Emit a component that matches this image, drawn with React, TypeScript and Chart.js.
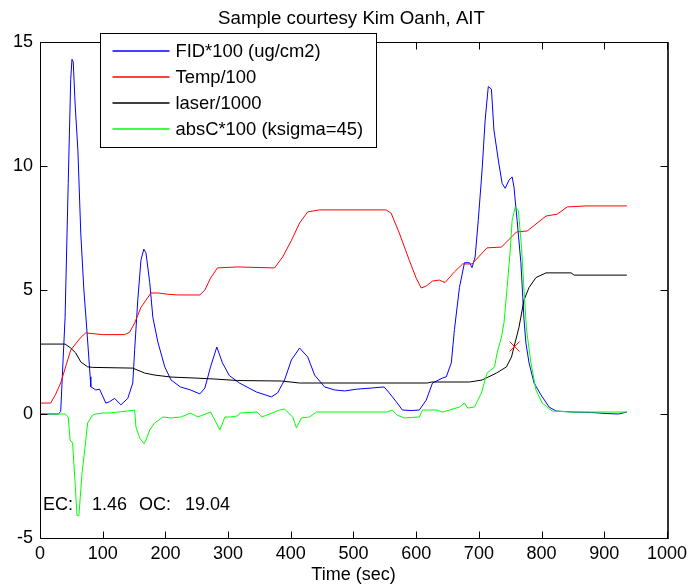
import React, { useEffect, useRef } from "react";
import { Chart, registerables } from "chart.js";

Chart.register(...registerables);

// ---- data ----
const fidTime = [0, 29, 33, 40, 45, 49, 51, 53, 56, 60.5, 65, 70, 75, 80, 81, 89, 95, 105, 111, 119, 129, 140, 148, 151, 156, 161, 165.6, 169, 175, 180, 188, 199, 209, 224, 240, 255, 263, 272, 282, 291, 302, 318, 345, 369, 379, 390, 401, 414, 427, 438, 454, 470, 486, 505, 530, 549, 557, 568, 578, 592, 605, 616, 626, 642, 648, 656, 661, 669, 677, 685, 689, 694, 699, 705, 710, 715, 720, 724, 731, 737, 742, 748, 753, 756, 761, 767, 772, 775, 780, 788, 799, 812, 823, 849, 880, 903, 923, 936];
const fidValue = [0, 0, 0.1, 3.9, 9.3, 13.5, 14.3, 14.2, 12.5, 10.6, 7.3, 5.0, 3.3, 1.5, 1.1, 0.97, 1.0, 0.44, 0.5, 0.63, 0.37, 0.63, 1.25, 2.6, 4.6, 6.2, 6.65, 6.5, 5.3, 3.9, 2.9, 1.9, 1.37, 1.09, 0.97, 0.81, 1.05, 1.9, 2.7, 2.06, 1.55, 1.25, 0.89, 0.69, 0.85, 1.37, 2.18, 2.66, 2.3, 1.57, 1.09, 0.97, 0.93, 1.0, 1.05, 1.09, 0.85, 0.5, 0.16, 0.14, 0.16, 0.56, 1.25, 1.45, 1.5, 2.06, 3.4, 5.1, 6.1, 6.1, 5.9, 6.33, 7.8, 9.8, 11.85, 13.2, 13.1, 11.45, 10.24, 9.3, 9.1, 9.43, 9.56, 9.15, 7.8, 6.1, 3.8, 2.86, 2.06, 1.25, 0.77, 0.28, 0.12, 0.08, 0.06, 0.02, 0, 0.08];

const tempTime = [0, 17, 25, 33, 49, 64, 73, 100, 135, 143, 151, 161, 177, 188, 204, 220, 255, 263, 272, 283, 315, 374, 387, 401, 414, 427, 446, 552, 560, 573, 589, 600, 608, 616, 626, 637, 646, 661, 674, 689, 713, 736, 760, 777, 807, 825, 841, 871, 936];
const tempValue = [0.44, 0.44, 0.8, 1.25, 2.58, 3.06, 3.27, 3.2, 3.2, 3.3, 3.67, 4.3, 4.88, 4.88, 4.83, 4.8, 4.8, 5.0, 5.48, 5.89, 5.93, 5.89, 6.33, 7.0, 7.7, 8.15, 8.23, 8.23, 8.1, 7.3, 6.2, 5.48, 5.08, 5.16, 5.36, 5.4, 5.3, 5.73, 6.05, 6.05, 6.7, 6.73, 7.34, 7.38, 7.98, 8.06, 8.35, 8.39, 8.39];

const laserTime = [0, 40, 49, 57, 65, 76, 84, 148, 167, 183, 209, 247, 279, 315, 385, 414, 618, 625, 685, 705, 728, 744, 752, 756, 764, 772, 780, 791, 807, 847, 852, 936];
const laserValue = [2.82, 2.82, 2.66, 2.46, 2.1, 1.9, 1.88, 1.85, 1.65, 1.57, 1.49, 1.45, 1.41, 1.35, 1.33, 1.25, 1.25, 1.29, 1.29, 1.37, 1.65, 1.9, 2.3, 2.7, 3.5, 4.6, 5.1, 5.5, 5.69, 5.69, 5.6, 5.6];

const absCTime = [0, 40, 45, 48, 52, 56, 59, 62, 67, 72, 76, 84, 89, 100, 112, 124, 140, 151, 153, 159, 166, 169, 175, 183, 196, 209, 225, 240, 252, 272, 287, 295, 304, 315, 319, 346, 354, 382, 390, 403, 409, 417, 430, 441, 553, 562, 569, 581, 605, 610, 632, 642, 653, 669, 677, 682, 693, 704, 713, 725, 729, 736, 740, 745, 750, 753, 758, 763, 768, 772, 776, 783, 791, 801, 817, 849, 936];
const absCValue = [0, 0, -0.12, -1.05, -1.17, -2.8, -4.1, -4.1, -2.4, -1.3, -0.36, -0.04, 0, 0.04, 0.04, 0.08, 0.12, 0.16, -0.52, -0.97, -1.2, -1.05, -0.64, -0.36, -0.12, -0.16, -0.12, 0.04, -0.12, 0.08, -0.64, -0.12, -0.12, -0.08, 0.04, 0.08, -0.12, 0.16, 0.2, -0.12, -0.56, -0.16, -0.12, 0.08, 0.08, 0.16, -0.04, -0.16, -0.12, 0.16, 0.16, 0.08, 0.16, 0.28, 0.44, 0.24, 0.28, 0.85, 1.65, 1.9, 2.46, 3.1, 3.67, 5.1, 6.6, 7.8, 8.35, 8.2, 6.73, 5.0, 3.39, 2.06, 0.97, 0.44, 0.12, 0.08, 0.08];

const markerTime = [757];
const markerValue = [2.72];

const seriesLabels = ["FID*100 (ug/cm2)", "Temp/100", "laser/1000", "absC*100 (ksigma=45)"];
const seriesColors = ["#0000ff", "#ff0000", "#000000", "#00ff00"];

const titleText = "Sample courtesy Kim Oanh, AIT";
const xAxisTitle = "Time (sec)";
const ecLabel = "EC:";
const ecValue = "1.46";
const ocLabel = "OC:";
const ocValue = "19.04";

const xMin = 0, xMax = 1000, xStep = 100;
const yMin = -5, yMax = 15, yStep = 5;

const FONT = '"Liberation Sans", Arial, Helvetica, sans-serif';

const toPoints = (xs: number[], ys: number[]) => xs.map((x, i) => ({ x, y: ys[i] }));

const matlabPlugin = {
  id: "matlabDecor",
  afterDraw(chart: any) {
    const { ctx, chartArea: a, scales } = chart;
    const xs = scales.x;
    const ys = scales.y;
    ctx.save();
    // box
    ctx.strokeStyle = "#000";
    ctx.lineWidth = 1;
    const L = Math.round(a.left) + 0.5;
    const R = Math.round(a.right) + 0.5;
    const T = Math.round(a.top) + 0.5;
    const B = Math.round(a.bottom) + 0.5;
    ctx.beginPath();
    ctx.moveTo(L, T);
    ctx.lineTo(R, T);
    ctx.lineTo(R, B);
    ctx.lineTo(L, B);
    ctx.closePath();
    ctx.stroke();
    ctx.lineWidth = 2;
    ctx.strokeStyle = "#333";
    ctx.beginPath();
    ctx.moveTo(R + 0.5, T - 0.5);
    ctx.lineTo(R + 0.5, B + 0.5);
    ctx.stroke();
    // inward ticks
    ctx.strokeStyle = "#000";
    ctx.lineWidth = 1;
    const tl = 7;
    ctx.beginPath();
    for (const t of xs.ticks) {
      const p = Math.round(xs.getPixelForValue(t.value)) + 0.5;
      ctx.moveTo(p, B);
      ctx.lineTo(p, B - tl);
      ctx.moveTo(p, T);
      ctx.lineTo(p, T + tl);
    }
    for (const t of ys.ticks) {
      const p = Math.round(ys.getPixelForValue(t.value)) + 0.5;
      ctx.moveTo(L, p);
      ctx.lineTo(L + tl, p);
      ctx.moveTo(R, p);
      ctx.lineTo(R - tl, p);
    }
    ctx.stroke();

    // title
    ctx.fillStyle = "#000";
    ctx.font = `18.7px ${FONT}`;
    ctx.textAlign = "center";
    ctx.textBaseline = "middle";
    ctx.fillText(titleText, (a.left + a.right) / 2 - 2, a.top - 23);

    // EC / OC text
    ctx.font = `18px ${FONT}`;
    ctx.textAlign = "left";
    const ty = a.bottom - 33;
    ctx.fillText(ecLabel, a.left + 3, ty);
    ctx.fillText(ecValue, a.left + 52, ty);
    ctx.fillText(ocLabel, a.left + 99, ty);
    ctx.fillText(ocValue, a.left + 145, ty);

    // legend
    const lx = a.left + 60.5;
    const ly = a.top - 8.5;
    const lw = 276;
    const lh = 114;
    ctx.fillStyle = "#ffffff";
    ctx.fillRect(lx, ly, lw, lh);
    ctx.strokeStyle = "#000000";
    ctx.lineWidth = 1;
    ctx.strokeRect(lx, ly, lw, lh);
    ctx.font = `18.4px ${FONT}`;
    const rowY = [17, 43.5, 69.5, 95];
    for (let i = 0; i < seriesLabels.length; i++) {
      const yy = Math.round(ly + rowY[i]);
      ctx.save();
      ctx.lineWidth = 1.3;
      ctx.strokeStyle = seriesColors[i];
      ctx.beginPath();
      ctx.moveTo(lx + 12, yy);
      ctx.lineTo(lx + 69, yy);
      ctx.stroke();
      ctx.restore();
      ctx.fillStyle = "#000000";
      ctx.textAlign = "left";
      ctx.textBaseline = "middle";
      ctx.fillText(seriesLabels[i], lx + 75, yy + 1);
    }
    ctx.restore();
  },
};

export default function App() {
  const ref = useRef<HTMLCanvasElement>(null);
  useEffect(() => {
    if (!ref.current) return;
    const lineDs = (label: string, xs: number[], ys: number[], color: string, order: number) => ({
      label,
      data: toPoints(xs, ys),
      borderColor: color,
      backgroundColor: color,
      borderWidth: 1,
      pointRadius: 0,
      tension: 0,
      fill: false,
      order,
    });
    const chart = new Chart(ref.current, {
      type: "line",
      data: {
        datasets: [
          lineDs(seriesLabels[0], fidTime, fidValue, seriesColors[0], 4),
          lineDs(seriesLabels[1], tempTime, tempValue, seriesColors[1], 3),
          lineDs(seriesLabels[2], laserTime, laserValue, seriesColors[2], 2),
          lineDs(seriesLabels[3], absCTime, absCValue, seriesColors[3], 1),
          {
            label: "marker",
            data: toPoints(markerTime, markerValue),
            showLine: false,
            pointStyle: "crossRot",
            pointRadius: 7,
            pointBorderWidth: 1,
            borderColor: "#ff0000",
            backgroundColor: "#ff0000",
            order: 0,
          } as any,
        ],
      },
      options: {
        responsive: false,
        animation: false,
        devicePixelRatio: 1,
        layout: { padding: { top: 42, right: 24, left: 0, bottom: 0 } },
        plugins: {
          legend: { display: false },
          title: { display: false },
          tooltip: { enabled: false },
        },
        scales: {
          x: {
            type: "linear",
            min: xMin,
            max: xMax,
            border: { display: false },
            grid: { display: false, drawTicks: false },
            ticks: {
              stepSize: xStep,
              color: "#000",
              padding: 5,
              font: { family: FONT, size: 18 },
              maxRotation: 0,
              callback: (v: any) => String(v),
            },
            title: {
              display: true,
              text: xAxisTitle,
              color: "#000",
              font: { family: FONT, size: 18 },
              padding: { top: 0, bottom: 0 },
            },
            afterFit: (s: any) => {
              s.height = 48;
            },
          },
          y: {
            type: "linear",
            min: yMin,
            max: yMax,
            border: { display: false },
            grid: { display: false, drawTicks: false },
            ticks: {
              stepSize: yStep,
              color: "#000",
              padding: 7,
              font: { family: FONT, size: 18 },
              callback: (v: any) => String(v),
            },
            afterFit: (s: any) => {
              s.width = 40;
            },
          },
        },
      } as any,
      plugins: [matlabPlugin],
    });
    return () => chart.destroy();
  }, []);
  return (
    <div style={{ position: "absolute", left: 0, top: 0, width: 692, height: 586, background: "#fff" }}>
      <canvas ref={ref} width={692} height={586} style={{ display: "block" }} />
    </div>
  );
}
